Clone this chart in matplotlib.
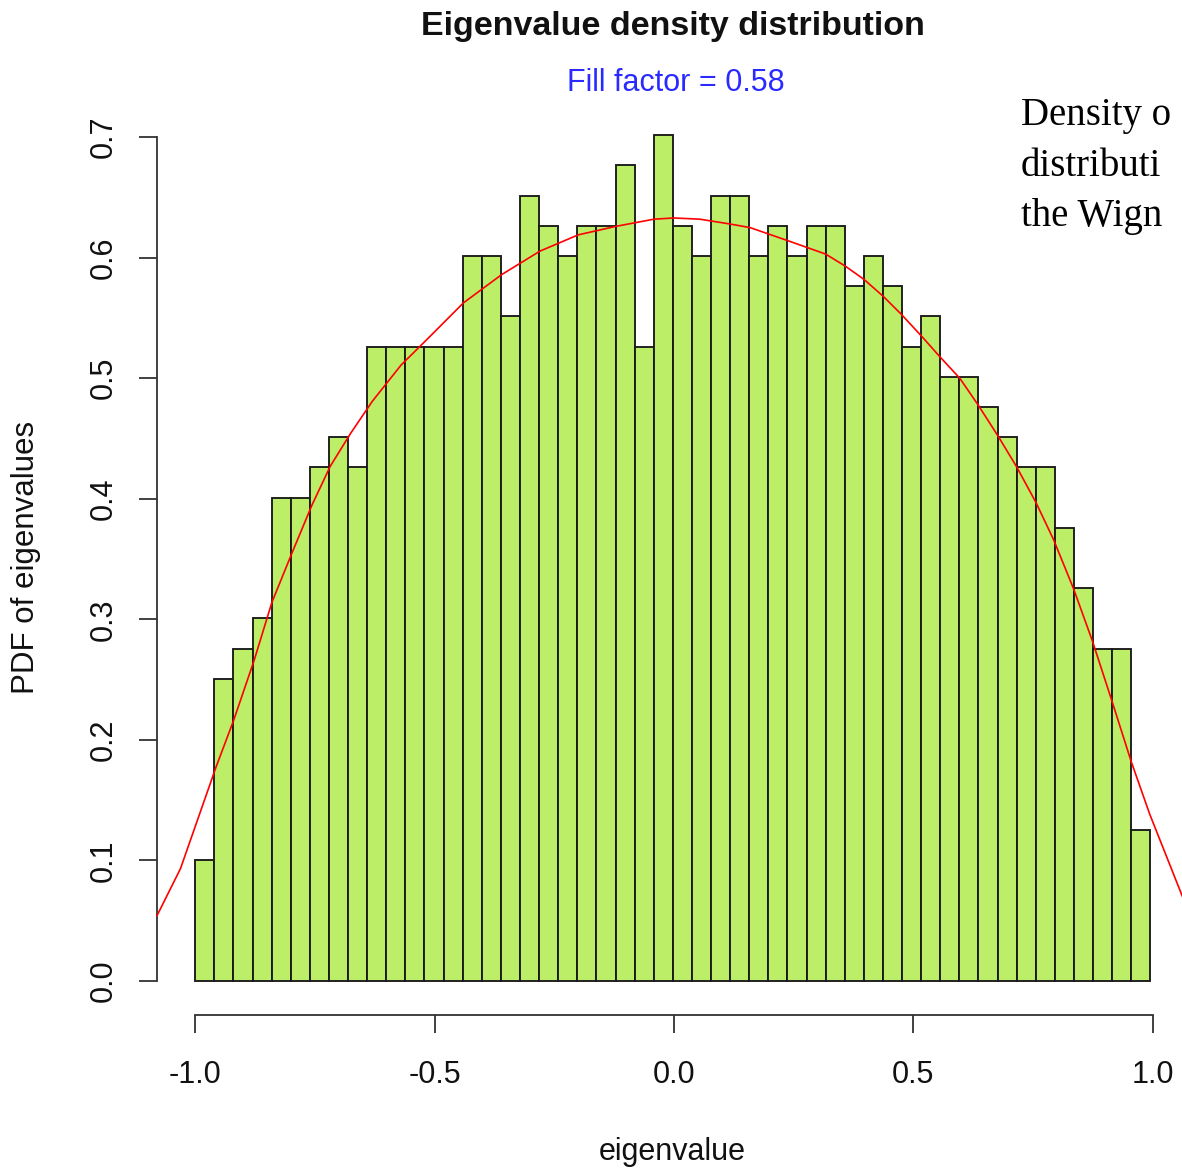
import matplotlib
matplotlib.use("Agg")
import matplotlib.pyplot as plt
import numpy as np

# ---- data ----
bin_start = -1.0
bin_width = 0.0399
counts = [4, 10, 11, 12, 16, 16, 17, 18, 17, 21,
          21, 21, 21, 21, 24, 24, 22, 26, 25, 24,
          25, 25, 27, 21, 28, 25, 24, 26, 26, 24,
          25, 24, 25, 25, 23, 24, 23, 21, 22, 20,
          20, 19, 18, 17, 17, 15, 13, 11, 11, 5]

curve_x = [-1.08, -1.031, -0.957, -0.920, -0.877, -0.840, -0.798, -0.756, -0.718, -0.676,
           -0.63, -0.57, -0.509, -0.44, -0.36, -0.28, -0.20, -0.122, -0.042,
           0.0, 0.054, 0.117, 0.159, 0.239, 0.317, 0.358, 0.397, 0.437, 0.475,
           0.517, 0.555, 0.597, 0.635, 0.677, 0.715, 0.756, 0.793, 0.835, 0.874,
           0.915, 0.955, 0.994, 1.06, 1.08]
curve_y = [0.054, 0.093, 0.177, 0.216, 0.266, 0.314, 0.355, 0.395, 0.427, 0.454,
           0.481, 0.511, 0.535, 0.5625, 0.586, 0.6055, 0.619, 0.626, 0.632,
           0.633, 0.632, 0.628, 0.625, 0.614, 0.603, 0.593, 0.582, 0.568, 0.553,
           0.535, 0.518, 0.500, 0.478, 0.452, 0.427, 0.397, 0.366, 0.325, 0.282,
           0.232, 0.182, 0.138, 0.072, 0.052]

x_ticks = [-1.0, -0.5, 0.0, 0.5, 1.0]
x_ticklabels = ["-1.0", "-0.5", "0.0", "0.5", "1.0"]
y_ticks = [0.0, 0.1, 0.2, 0.3, 0.4, 0.5, 0.6, 0.7]
y_ticklabels = ["0.0", "0.1", "0.2", "0.3", "0.4", "0.5", "0.6", "0.7"]

title = "Eigenvalue density distribution"
subtitle = "Fill factor = 0.58"
xlabel = "eigenvalue"
ylabel = "PDF of eigenvalues"
# side text is cut by the right edge of the reference screenshot
side_lines = ["Density o", "distributi", "the Wign"]

# ---- figure ----
W, H = 1182, 1174
fig = plt.figure(figsize=(W / 100, H / 100), dpi=100)
plt.rcParams['font.family'] = ['Liberation Sans', 'DejaVu Sans']

# plot region in pixels (R style, 4% padding)
left_px, right_px, top_px, bottom_px = 157.0, 1191.0, 103.5, 1014.5
ax = fig.add_axes([left_px / W, 1 - bottom_px / H,
                   (right_px - left_px) / W, (bottom_px - top_px) / H])
ax.set_xlim(-1.08, 1.08)
ax.set_ylim(-0.028, 0.728)
ax.patch.set_alpha(0)

n = len(counts)
total = sum(counts)
edges = bin_start + bin_width * np.arange(n + 1)
density = np.array(counts) / (total * bin_width)
ax.bar(edges[:-1], density, width=bin_width, align='edge',
       color='#BCEE68', edgecolor='#1a1a1a', linewidth=1.35, zorder=2)

ax.plot(curve_x, curve_y, color='red', linewidth=1.2, zorder=3, clip_on=False)

for s in ['top', 'right']:
    ax.spines[s].set_visible(False)
ax.spines['left'].set_bounds(0, 0.7)
ax.spines['bottom'].set_bounds(-1, 1)
for s in ['left', 'bottom']:
    ax.spines[s].set_linewidth(1.3)
    ax.spines[s].set_color('#333333')

ax.set_xticks(x_ticks)
ax.set_xticklabels(x_ticklabels)
ax.set_yticks(y_ticks)
ax.set_yticklabels(y_ticklabels)
ax.tick_params(axis='both', direction='out', length=13, width=1.3, color='#333333',
               labelsize=22, labelcolor='#111111')
ax.tick_params(axis='x', pad=20)
ax.tick_params(axis='y', pad=14.5, labelrotation=90)
for lbl in ax.get_yticklabels():
    lbl.set_va('center')

# texts
fig.text(673 / W, 1 - 26 / H, title, ha='center', va='center',
         fontsize=24.5, fontweight='bold', color='#111111')
fig.text(676 / W, 1 - 83 / H, subtitle, ha='center', va='center',
         fontsize=22, color='#2a2aff')
fig.text(672 / W, 1 - 1152 / H, xlabel, ha='center', va='center',
         fontsize=22, color='#111111')
fig.text(26 / W, 1 - 557 / H, ylabel, ha='center', va='center',
         rotation=90, fontsize=22.5, color='#111111')

for i, line in enumerate(side_lines):
    fig.text(1021 / W, 1 - (125 + 50.5 * i) / H, line, ha='left', va='baseline',
             fontsize=28, family=['Liberation Serif', 'DejaVu Serif'], color='black')

fig.savefig("out.png", dpi=100)
